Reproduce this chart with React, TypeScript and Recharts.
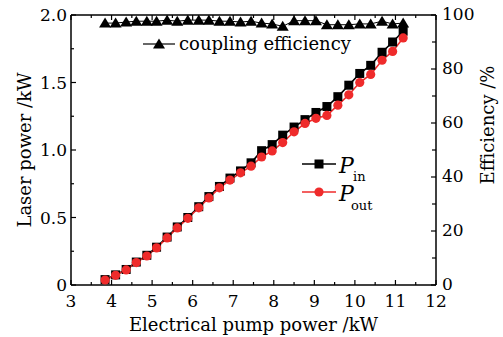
import React from 'react';
import { LineChart, Line, XAxis, YAxis, Legend } from 'recharts';

// (electrical pump power in kW)
const pumpPower = [3.84, 4.1, 4.36, 4.61, 4.87, 5.11, 5.37, 5.62, 5.88, 6.15, 6.4, 6.66, 6.92, 7.18, 7.44, 7.7, 7.96, 8.22, 8.5, 8.77, 9.04, 9.31, 9.58, 9.85, 10.12, 10.39, 10.67, 10.93, 11.19];
// P_in, laser power in kW
const powerIn = [0.04, 0.075, 0.115, 0.17, 0.22, 0.28, 0.355, 0.43, 0.5, 0.58, 0.655, 0.73, 0.792, 0.845, 0.905, 0.995, 1.04, 1.11, 1.17, 1.225, 1.278, 1.322, 1.395, 1.48, 1.567, 1.627, 1.724, 1.8, 1.88];
// P_out, laser power in kW
const powerOut = [0.037, 0.072, 0.112, 0.166, 0.215, 0.275, 0.349, 0.423, 0.494, 0.572, 0.645, 0.72, 0.777, 0.831, 0.88, 0.948, 0.993, 1.055, 1.135, 1.197, 1.235, 1.256, 1.332, 1.409, 1.5, 1.56, 1.665, 1.73, 1.83];
// coupling efficiency in %
const couplingEff = [97.0, 97.0, 97.4, 97.7, 97.7, 97.7, 98.1, 97.7, 98.1, 98.1, 98.1, 97.7, 97.7, 97.4, 97.7, 97.0, 96.7, 95.8, 97.9, 97.9, 97.9, 96.4, 96.4, 96.4, 96.7, 96.7, 97.7, 96.7, 97.0];

const xTicks = [3, 3.5, 4, 4.5, 5, 5.5, 6, 6.5, 7, 7.5, 8, 8.5, 9, 9.5, 10, 10.5, 11, 11.5, 12];
const powerTicks = [0, 0.25, 0.5, 0.75, 1, 1.25, 1.5, 1.75, 2];
const effTicks = [0, 10, 20, 30, 40, 50, 60, 70, 80, 90, 100];

const data = pumpPower.map((x, i) => ({
  x,
  pin: powerIn[i],
  pout: powerOut[i],
  eff: couplingEff[i],
}));

const FONT = "'DejaVu Serif', 'Liberation Serif', serif";
const RED = '#ef2b2b';

const BottomTick = ({ x, y, payload }: any) => {
  const major = Number.isInteger(payload.value);
  return (
    <g>
      <line x1={x} y1={y} x2={x} y2={y - (major ? 5 : 3)} stroke="#000" strokeWidth={1.2} />
      {major && (
        <text x={x} y={y + 22} textAnchor="middle" fontSize={17} fontFamily={FONT} fill="#000">
          {payload.value}
        </text>
      )}
    </g>
  );
};

const TopTick = ({ x, y, payload }: any) => {
  const major = Number.isInteger(payload.value);
  return <line x1={x} y1={y} x2={x} y2={y + (major ? 5 : 3)} stroke="#000" strokeWidth={1.2} />;
};

const LeftTick = ({ x, y, payload }: any) => {
  const v = payload.value;
  const major = Math.abs(v * 2 - Math.round(v * 2)) < 1e-6;
  return (
    <g>
      <line x1={x} y1={y} x2={x + (major ? 5 : 3)} y2={y} stroke="#000" strokeWidth={1.2} />
      {major && (
        <text x={x - 4} y={y + 6} textAnchor="end" fontSize={17} fontFamily={FONT} fill="#000">
          {v === 0 ? '0' : v.toFixed(1)}
        </text>
      )}
    </g>
  );
};

const RightTick = ({ x, y, payload }: any) => {
  const v = payload.value;
  const major = v % 20 === 0;
  return (
    <g>
      <line x1={x} y1={y} x2={x - (major ? 5 : 4)} y2={y} stroke="#000" strokeWidth={1.2} />
      {major && (
        <text x={x + 6} y={y + 5} textAnchor="start" fontSize={17} fontFamily={FONT} fill="#000">
          {v}
        </text>
      )}
    </g>
  );
};

const SquareDot = (p: any) => (
  <rect key={`sq-${p.index}`} x={p.cx - 4.5} y={p.cy - 4.5} width={9} height={9} fill="#000" />
);

const CircleDot = (p: any) => (
  <circle key={`ci-${p.index}`} cx={p.cx} cy={p.cy} r={4.6} fill={RED} />
);

const TriangleDot = (p: any) => (
  <polygon
    key={`tr-${p.index}`}
    points={`${p.cx},${p.cy - 5.5} ${p.cx - 6},${p.cy + 4.5} ${p.cx + 6},${p.cy + 4.5}`}
    fill="#000"
  />
);

const LegendBoxes = () => (
  <svg width={503} height={337} style={{ overflow: 'visible' }}>
    {/* coupling efficiency */}
    <line x1={143} y1={44} x2={175} y2={44} stroke="#000" strokeWidth={1.2} />
    <polygon points="159,38.5 153,48.5 165,48.5" fill="#000" />
    <text x={179} y={50} fontSize={18} fontFamily={FONT} fill="#000">coupling efficiency</text>
    {/* P_in */}
    <line x1={302} y1={164} x2={336} y2={164} stroke="#000" strokeWidth={1.6} />
    <rect x={314.5} y={159.5} width={9} height={9} fill="#000" />
    <text x={339} y={173} fontSize={22} fontStyle="italic" fontFamily={FONT} fill="#000">P</text>
    <text x={353} y={181} fontSize={13} fontFamily={FONT} fill="#000">in</text>
    {/* P_out */}
    <line x1={302} y1={192} x2={336} y2={192} stroke={RED} strokeWidth={1.6} />
    <circle cx={319} cy={192} r={4.6} fill={RED} />
    <text x={339} y={201} fontSize={22} fontStyle="italic" fontFamily={FONT} fill="#000">P</text>
    <text x={351} y={210} fontSize={13} fontFamily={FONT} fill="#000">out</text>
  </svg>
);

export default function App() {
  return (
    <div style={{ position: 'absolute', left: 0, top: 0, width: 503, height: 337, background: '#fff' }}>
      <LineChart width={503} height={337} data={data} margin={{ top: 0, right: 0, bottom: 0, left: 0 }}>
        <XAxis
          dataKey="x"
          type="number"
          domain={[3, 12]}
          ticks={xTicks}
          interval={0}
          allowDataOverflow
          height={52}
          tickSize={0}
          tickMargin={0}
          tickLine={false}
          axisLine={{ stroke: '#000', strokeWidth: 1.5 }}
          tick={<BottomTick />}
          label={(props: any) => {
            const vb = props.viewBox || { x: 71, y: 285, width: 365 };
            return (
              <text x={vb.x + vb.width / 2} y={vb.y + 46} textAnchor="middle" fontSize={18} fontFamily={FONT} fill="#000">
                Electrical pump power /kW
              </text>
            );
          }}
        />
        <XAxis
          xAxisId="top"
          orientation="top"
          dataKey="x"
          type="number"
          domain={[3, 12]}
          ticks={xTicks}
          interval={0}
          allowDataOverflow
          height={15}
          tickSize={0}
          tickMargin={0}
          tickLine={false}
          axisLine={{ stroke: '#000', strokeWidth: 1.5 }}
          tick={<TopTick />}
        />
        <YAxis
          yAxisId="left"
          type="number"
          domain={[0, 2]}
          ticks={powerTicks}
          interval={0}
          allowDataOverflow
          width={71}
          tickSize={0}
          tickMargin={0}
          tickLine={false}
          axisLine={{ stroke: '#000', strokeWidth: 1.5 }}
          tick={<LeftTick />}
          label={(props: any) => {
            const vb = props.viewBox || { x: 0, y: 15, height: 270 };
            const cx = vb.x + 24;
            const cy = vb.y + vb.height / 2;
            return (
              <text x={cx} y={cy} transform={`rotate(-90 ${cx} ${cy})`} textAnchor="middle" dominantBaseline="central" fontSize={18} fontFamily={FONT} fill="#000">
                Laser power /kW
              </text>
            );
          }}
        />
        <YAxis
          yAxisId="right"
          orientation="right"
          type="number"
          domain={[0, 100]}
          ticks={effTicks}
          interval={0}
          allowDataOverflow
          width={67}
          tickSize={0}
          tickMargin={0}
          tickLine={false}
          axisLine={{ stroke: '#000', strokeWidth: 1.5 }}
          tick={<RightTick />}
          label={(props: any) => {
            const vb = props.viewBox || { x: 436, y: 15, height: 270 };
            const cx = vb.x + 51;
            const cy = vb.y + 110;
            return (
              <text x={cx} y={cy} transform={`rotate(-90 ${cx} ${cy})`} textAnchor="middle" dominantBaseline="central" fontSize={18} fontFamily={FONT} fill="#000">
                Efficiency /%
              </text>
            );
          }}
        />
        <Legend
          layout="horizontal"
          verticalAlign="middle"
          align="center"
          content={<LegendBoxes />}
          wrapperStyle={{ position: 'absolute', left: 0, top: 0, width: 503, height: 337, pointerEvents: 'none' }}
        />
        <Line
          yAxisId="right"
          dataKey="eff"
          type="linear"
          stroke="#000"
          strokeWidth={1}
          dot={TriangleDot}
          activeDot={false}
          isAnimationActive={false}
        />
        <Line
          yAxisId="left"
          dataKey="pin"
          type="linear"
          stroke="#000"
          strokeWidth={1.6}
          dot={SquareDot}
          activeDot={false}
          isAnimationActive={false}
        />
        <Line
          yAxisId="left"
          dataKey="pout"
          type="linear"
          stroke={RED}
          strokeWidth={1.6}
          dot={CircleDot}
          activeDot={false}
          isAnimationActive={false}
        />
      </LineChart>
    </div>
  );
}
